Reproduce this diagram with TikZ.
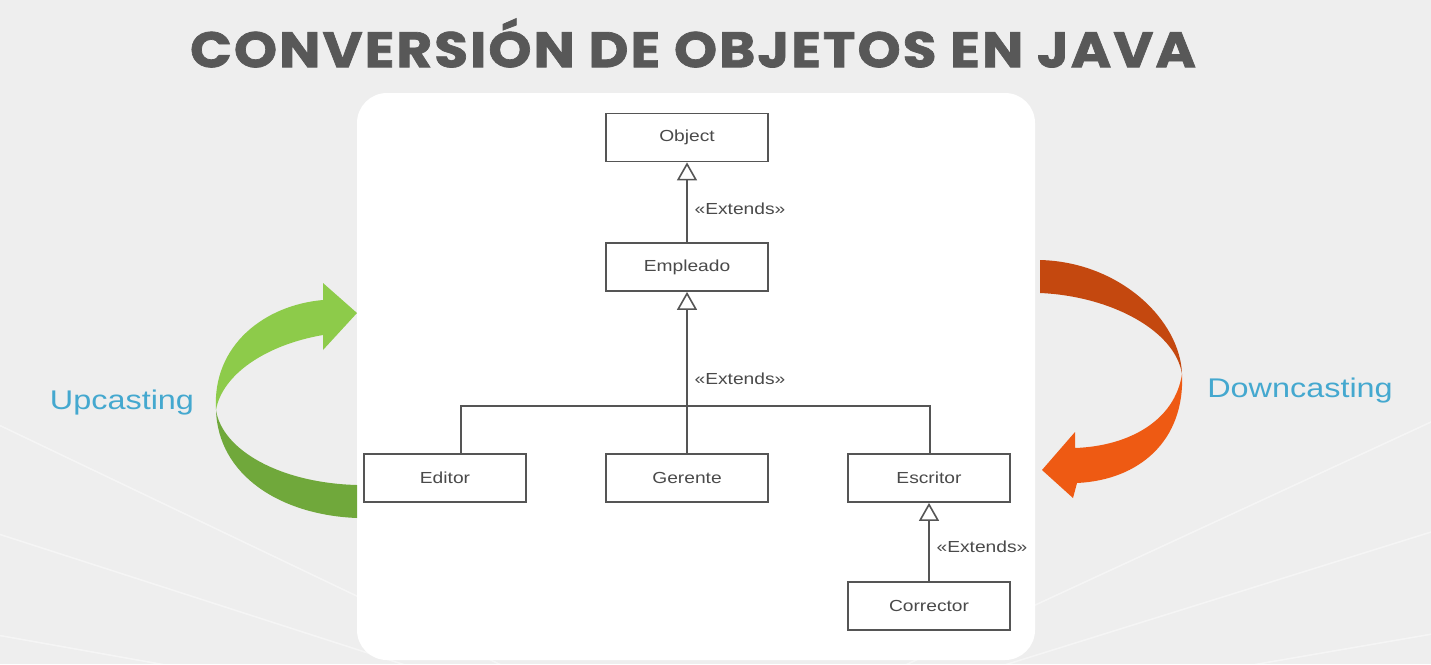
\documentclass[tikz,border=0pt]{standalone}
\usepackage{fontspec}
\usepackage{tikz}
\usetikzlibrary{arrows.meta, positioning}
\newfontfamily\umlfont{Liberation Sans}[FakeStretch=1.2]
\newfontfamily\titlefont{Poppins}[FakeStretch=1.1, LetterSpace=4, BoldFeatures={FakeBold=1.4}]
\definecolor{bgray}{HTML}{EEEEEE}
\definecolor{titlegray}{HTML}{585858}
\definecolor{linegray}{HTML}{555555}
\definecolor{textgray}{HTML}{4A4A4A}
\definecolor{castblue}{HTML}{44A8CF}
\definecolor{upgreen}{HTML}{8DCB4A}
\definecolor{updark}{HTML}{70A83B}
\definecolor{downdark}{HTML}{C4480F}
\definecolor{downorange}{HTML}{EE5A13}

\begin{document}
\begin{tikzpicture}[x=1pt, y=-1pt,
    classbox/.style={draw=linegray, line width=1.8pt, fill=white,
        minimum width=162pt, minimum height=48pt, inner sep=0pt,
        text=textgray, font=\umlfont\fontsize{16}{18}\selectfont},
    extends/.style={draw=linegray, line width=1.6pt,
        -{Triangle[open, length=18pt, width=20pt, line width=1.6pt]}},
    stereo/.style={text=textgray, font=\umlfont\fontsize{16}{18}\selectfont},
    cast/.style={text=castblue, font=\umlfont\fontsize{27}{30}\selectfont}]
\useasboundingbox (0,0) rectangle (1431,664);
\fill[bgray] (0,0) rectangle (1431,664);
\foreach \ex/\ey in {-200/330, -200/470, -200/600, 1630/330, 1630/470, 1630/600}
    \draw[white, line width=1.5pt, opacity=0.45] (700,760) -- (\ex,\ey);
\fill[white, rounded corners=30pt] (357,93) rectangle (1035,660);

\node (title) at (693,43) {\titlefont\bfseries\fontsize{50}{56}\selectfont\color{titlegray}CONVERSIÓN DE OBJETOS EN JAVA};

\node[classbox] (object) at (687,137.5) {Object};
\node[classbox] (empleado) at (687,267) {Empleado};
\node[classbox] (editor) at (445,478) {Editor};
\node[classbox] (gerente) at (687,478) {Gerente};
\node[classbox] (escritor) at (929,478) {Escritor};
\node[classbox] (corrector) at (929,606) {Corrector};

\coordinate (barL) at (461,406);
\coordinate (barR) at (930,406);
\draw[extends] (empleado) -- (object);
\draw[extends] (gerente) -- (empleado);
\draw[draw=linegray, line width=1.6pt] (editor.north -| barL) -- (barL) -- (barR) -- (escritor.north -| barR);
\draw[extends] (corrector) -- (escritor);

\node[stereo] (ext1) at (740,209) {«Extends»};
\node[stereo] (ext2) at (740,379) {«Extends»};
\node[stereo] (ext3) at (982,547) {«Extends»};

\fill[updark] (357,485) -- (357,518) .. controls (280,515) and (218,475) .. (216,410)
    .. controls (222,450) and (280,483) .. cycle;
\fill[upgreen] (216,410) .. controls (212,345) and (265,305) .. (323,300) -- (323,283) -- (357,313)
    -- (323,350) -- (323,335) .. controls (265,345) and (222,375) .. cycle;
\fill[downdark] (1040,260) -- (1040,293) .. controls (1110,296) and (1175,330) .. (1182,374)
    .. controls (1180,320) and (1120,262) .. cycle;
\fill[downorange] (1182,374) .. controls (1185,440) and (1140,480) .. (1077,483) -- (1073,498)
    -- (1042,470) -- (1075,432) -- (1075,448) .. controls (1130,446) and (1175,420) .. cycle;

\node[cast] (up) at (122,403) {Upcasting};
\node[cast] (down) at (1300,391) {Downcasting};
\end{tikzpicture}
\end{document}
